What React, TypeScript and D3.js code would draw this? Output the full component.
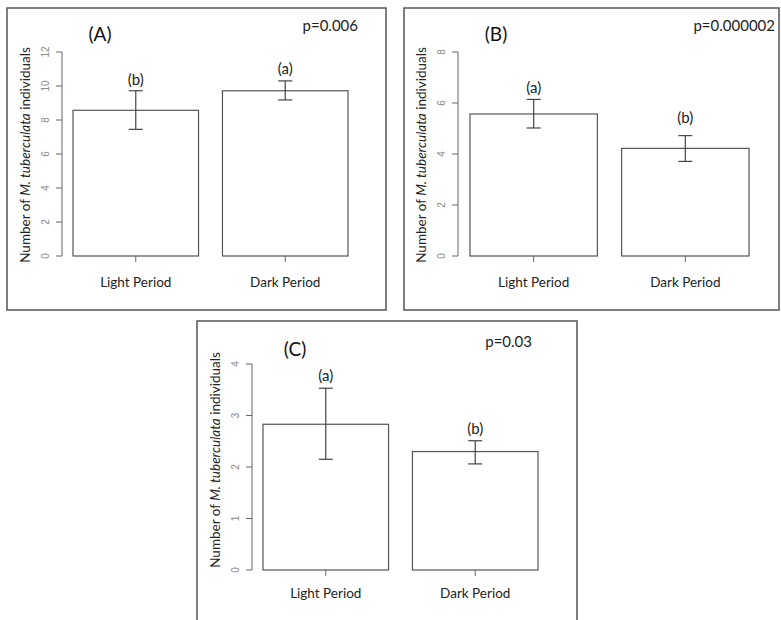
import React from "react";
import * as d3 from "d3";

const categories = ["Light Period", "Dark Period"];

const meansA = [8.57, 9.72];
const lowA = [7.45, 9.18];
const highA = [9.72, 10.3];
const lettersA = ["(b)", "(a)"];
const letterPosA = [10.4, 11.05];
const ticksA = [0, 2, 4, 6, 8, 10, 12];

const meansB = [5.57, 4.22];
const lowB = [5.02, 3.71];
const highB = [6.14, 4.72];
const lettersB = ["(a)", "(b)"];
const letterPosB = [6.62, 5.45];
const ticksB = [0, 2, 4, 6, 8];

const meansC = [2.83, 2.3];
const lowC = [2.15, 2.06];
const highC = [3.53, 2.51];
const lettersC = ["(a)", "(b)"];
const letterPosC = [3.79, 2.76];
const ticksC = [0, 1, 2, 3, 4];

const panelTitles = ["(A)", "(B)", "(C)"];
const pValues = ["p=0.006", "p=0.000002", "p=0.03"];

const FONT = "Lato, 'Open Sans', sans-serif";

type PanelProps = {
  frame: [number, number, number, number];
  axisX: number;
  y0: number;
  yTop: number;
  barRange: [number, number];
  ymax: number;
  ticks: number[];
  means: number[];
  low: number[];
  high: number[];
  letters: string[];
  letterPos: number[];
  title: string;
  titlePos: [number, number];
  pText: string;
  pPos: [number, number];
  labelCenterY: number;
  xLabelDy: number;
};

function Panel(p: PanelProps) {
  const y = d3.scaleLinear().domain([0, p.ymax]).range([p.y0, p.yTop]);
  const x = d3
    .scaleBand<string>()
    .domain(categories)
    .range(p.barRange)
    .paddingInner(0.16)
    .paddingOuter(0);
  const [fx, fy, fw, fh] = p.frame;
  const labelX = p.axisX - 37;
  return (
    <g>
      <rect x={fx} y={fy} width={fw} height={fh} fill="white" stroke="#555" strokeWidth={1.5} />
      <line x1={p.axisX} x2={p.axisX} y1={y(0)} y2={y(p.ymax)} stroke="#666" strokeWidth={1} />
      {p.ticks.map((t) => (
        <g key={t}>
          <line x1={p.axisX - 6} x2={p.axisX} y1={y(t)} y2={y(t)} stroke="#666" strokeWidth={1} />
          <text
            transform={`translate(${p.axisX - 17},${y(t)}) rotate(-90)`}
            textAnchor="middle"
            dominantBaseline="central"
            fontSize={10}
            fill="#888"
            fontFamily="'Liberation Sans', Arial, sans-serif"
          >
            {t}
          </text>
        </g>
      ))}
      <text
        transform={`translate(${labelX},${p.labelCenterY}) rotate(-90)`}
        textAnchor="middle"
        dominantBaseline="central"
        fontSize={13.5}
        fill="#222"
        fontFamily={FONT}
      >
        Number of <tspan fontStyle="italic">M. tuberculata</tspan> individuals
      </text>
      {categories.map((c, i) => {
        const bx = x(c) as number;
        const bw = x.bandwidth();
        const cx = bx + bw / 2;
        return (
          <g key={c}>
            <rect x={bx} y={y(p.means[i])} width={bw} height={y(0) - y(p.means[i])} fill="white" stroke="#555" strokeWidth={1.2} />
            <line x1={cx} x2={cx} y1={y(p.low[i])} y2={y(p.high[i])} stroke="#444" strokeWidth={1.2} />
            <line x1={cx - 7} x2={cx + 7} y1={y(p.low[i])} y2={y(p.low[i])} stroke="#444" strokeWidth={1.2} />
            <line x1={cx - 7} x2={cx + 7} y1={y(p.high[i])} y2={y(p.high[i])} stroke="#444" strokeWidth={1.2} />
            <line x1={cx} x2={cx} y1={y(0)} y2={y(0) + 6} stroke="#666" strokeWidth={1} />
            <text x={cx} y={y(p.letterPos[i])} textAnchor="middle" dominantBaseline="central" fontSize={15} fill="#222" fontFamily={FONT}>
              {p.letters[i]}
            </text>
            <text x={cx} y={y(0) + p.xLabelDy} textAnchor="middle" dominantBaseline="central" fontSize={13.5} fill="#222" fontFamily={FONT}>
              {c}
            </text>
          </g>
        );
      })}
      <text x={p.titlePos[0]} y={p.titlePos[1]} textAnchor="middle" dominantBaseline="central" fontSize={19} fill="#111" fontFamily={FONT}>
        {p.title}
      </text>
      <text x={p.pPos[0]} y={p.pPos[1]} textAnchor="end" dominantBaseline="central" fontSize={15} fill="#222" fontFamily={FONT}>
        {p.pText}
      </text>
    </g>
  );
}

export default function App() {
  return (
    <svg
      width={781}
      height={620}
      style={{ position: "absolute", left: 0, top: 0, background: "white" }}
    >
      <rect x={0} y={0} width={781} height={620} fill="white" />
      <Panel
        frame={[7, 8, 379, 302]}
        axisX={62}
        y0={256}
        yTop={52}
        barRange={[73, 348]}
        ymax={12}
        ticks={ticksA}
        means={meansA}
        low={lowA}
        high={highA}
        letters={lettersA}
        letterPos={letterPosA}
        title={panelTitles[0]}
        titlePos={[100, 33]}
        pText={pValues[0]}
        pPos={[358, 25]}
        labelCenterY={155}
        xLabelDy={26}
      />
      <Panel
        frame={[404, 8, 375, 302]}
        axisX={458}
        y0={256}
        yTop={52}
        barRange={[470, 749]}
        ymax={8}
        ticks={ticksB}
        means={meansB}
        low={lowB}
        high={highB}
        letters={lettersB}
        letterPos={letterPosB}
        title={panelTitles[1]}
        titlePos={[496, 33]}
        pText={pValues[1]}
        pPos={[775, 25]}
        labelCenterY={155}
        xLabelDy={26}
      />
      <Panel
        frame={[197, 321, 380, 310]}
        axisX={252}
        y0={570}
        yTop={364}
        barRange={[263, 538]}
        ymax={4}
        ticks={ticksC}
        means={meansC}
        low={lowC}
        high={highC}
        letters={lettersC}
        letterPos={letterPosC}
        title={panelTitles[2]}
        titlePos={[295, 348]}
        pText={pValues[2]}
        pPos={[532, 341]}
        labelCenterY={460}
        xLabelDy={23}
      />
    </svg>
  );
}
